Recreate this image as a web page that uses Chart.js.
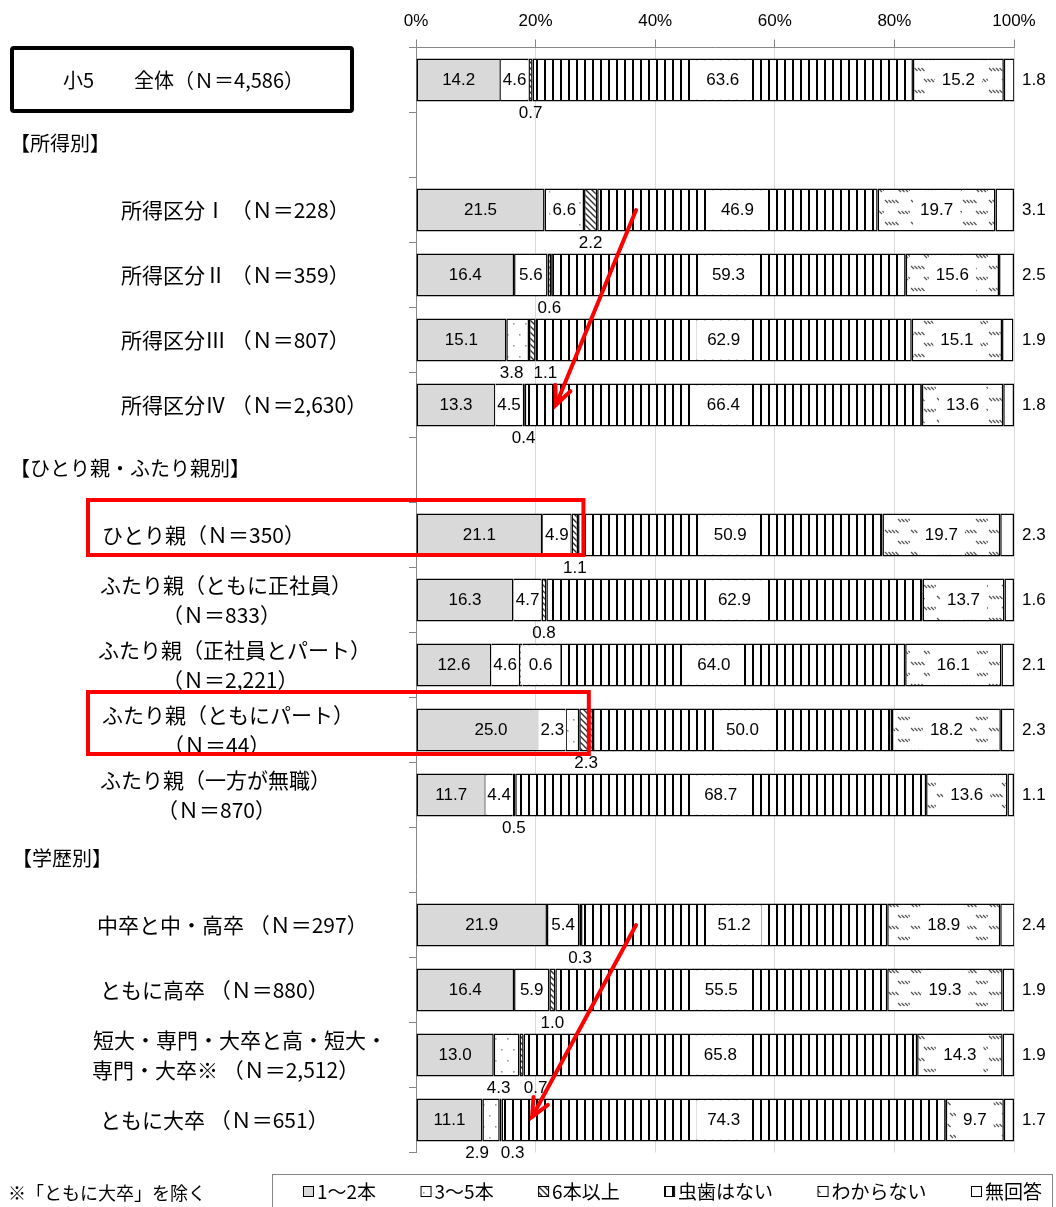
<!DOCTYPE html>
<html>
<head>
<meta charset="utf-8">
<script src="https://cdn.jsdelivr.net/npm/chart.js@4.4.1/dist/chart.umd.min.js"></script>
<style>
  html, body { margin: 0; padding: 0; background: #fff; }
  canvas { display: block; }
</style>
</head>
<body>
<canvas id="chart" width="1056" height="1207"></canvas>
<script>
// ---- data ----
const categories = [
  '小5　　全体（Ｎ＝4,586）',
  '【所得別】',
  '所得区分Ⅰ （Ｎ＝228）',
  '所得区分Ⅱ （Ｎ＝359）',
  '所得区分Ⅲ （Ｎ＝807）',
  '所得区分Ⅳ （Ｎ＝2,630）',
  '【ひとり親・ふたり親別】',
  'ひとり親（Ｎ＝350）',
  ['ふたり親（ともに正社員）', '（Ｎ＝833）'],
  ['ふたり親（正社員とパート）', '（Ｎ＝2,221）'],
  ['ふたり親（ともにパート）', '（Ｎ＝44）'],
  ['ふたり親（一方が無職）', '（Ｎ＝870）'],
  '【学歴別】',
  '中卒と中・高卒 （Ｎ＝297）',
  'ともに高卒 （Ｎ＝880）',
  ['短大・専門・大卒と高・短大・', '専門・大卒※ （Ｎ＝2,512）'],
  'ともに大卒 （Ｎ＝651）'
];
const seriesNames = ['1～2本', '3～5本', '6本以上', '虫歯はない', 'わからない', '無回答'];
const oneToTwo  = [14.2, null, 21.5, 16.4, 15.1, 13.3, null, 21.1, 16.3, 12.6, 25.0, 11.7, null, 21.9, 16.4, 13.0, 11.1];
const threeToFive = [4.6, null, 6.6, 5.6, 3.8, 4.5, null, 4.9, 4.7, 4.6, 2.3, 4.4, null, 5.4, 5.9, 4.3, 2.9];
const sixPlus   = [0.7, null, 2.2, 0.6, 1.1, 0.4, null, 1.1, 0.8, 0.6, 2.3, 0.5, null, 0.3, 1.0, 0.7, 0.3];
const noCaries  = [63.6, null, 46.9, 59.3, 62.9, 66.4, null, 50.9, 62.9, 64.0, 50.0, 68.7, null, 51.2, 55.5, 65.8, 74.3];
const unknown   = [15.2, null, 19.7, 15.6, 15.1, 13.6, null, 19.7, 13.7, 16.1, 18.2, 13.6, null, 18.9, 19.3, 14.3, 9.7];
const noAnswer  = [1.8, null, 3.1, 2.5, 1.9, 1.8, null, 2.3, 1.6, 2.1, 2.3, 1.1, null, 2.4, 1.9, 1.9, 1.7];
const tickLabels = ['0%', '20%', '40%', '60%', '80%', '100%'];
const footnote = '※「ともに大卒」を除く';

// ---- layout (not data) ----
const headerRows = [1, 6, 12];
const labelX = [63, 10, 121, 121, 121, 121, 10, 102, [100, 162], [98, 162], [102, 163], [100, 157], 12, 97, 100, [93, 92], 100];
// manual nudges of value labels, key "row,dataset"
const labelPlace = {
  '4,1':  { below: true, dx: -6 },
  '4,2':  { dx: 13 },
  '9,2':  { inside: true, dx: 20 },
  '10,1': { dx: -20 },
  '15,1': { below: true, dx: -8 },
  '15,2': { dx: 14 },
  '16,1': { below: true, dx: -14 },
  '16,2': { dx: 12 }
};
const jpFont = '"Noto Sans CJK JP", "Noto Sans", sans-serif';
const numFont = '"Liberation Sans", Arial, sans-serif';

const canvas = document.getElementById('chart');
const mainCtx = canvas.getContext('2d');

function makePattern(w, h, draw) {
  const c = document.createElement('canvas');
  c.width = w; c.height = h;
  const g = c.getContext('2d');
  g.fillStyle = '#fff';
  g.fillRect(0, 0, w, h);
  draw(g);
  return mainCtx.createPattern(c, 'repeat');
}

const dotPattern = makePattern(12, 22, g => {
  g.fillStyle = '#9a9a9a';
  g.fillRect(3, 4, 1.6, 1.6);
  g.fillRect(9, 15, 1.6, 1.6);
});
const hatchPattern = makePattern(6, 6, g => {
  g.strokeStyle = '#333';
  g.lineWidth = 1.4;
  for (let k = -1; k <= 1; k++) {
    g.beginPath();
    g.moveTo(-1, -1 + k * 6);
    g.lineTo(7, 7 + k * 6);
    g.stroke();
  }
});
const stripePattern = makePattern(8, 8, g => {
  g.fillStyle = '#000';
  g.fillRect(0, 0, 2, 8);
});
const dashPattern = makePattern(26, 22, g => {
  g.strokeStyle = '#555';
  g.lineWidth = 1.2;
  for (let k = 0; k < 4; k++) {
    g.beginPath(); g.moveTo(1 + 3.5 * k, 2); g.lineTo(4 + 3.5 * k, 5); g.stroke();
    g.beginPath(); g.moveTo(14 + 3.5 * k, 13); g.lineTo(17 + 3.5 * k, 16); g.stroke();
  }
});

const fills = ['#d9d9d9', dotPattern, hatchPattern, stripePattern, dashPattern, '#fff'];
const seriesData = [oneToTwo, threeToFive, sixPlus, noCaries, unknown, noAnswer];

const datasets = seriesNames.map((name, i) => ({
  label: name,
  data: seriesData[i],
  backgroundColor: fills[i],
  borderColor: '#000',
  borderWidth: 1.5,
  borderSkipped: false,
  barPercentage: 0.66,
  categoryPercentage: 1.0
}));

function boxText(ctx, text, x, y, pad, top, bottom) {
  const w = ctx.measureText(text).width;
  ctx.fillStyle = '#fff';
  ctx.fillRect(x - w / 2 - pad, top, w + pad * 2, bottom - top);
  ctx.fillStyle = '#000';
  ctx.fillText(text, x, y);
}

const valueLabels = {
  id: 'valueLabels',
  afterDatasetsDraw(chart) {
    const ctx = chart.ctx;
    ctx.save();
    ctx.font = '17px ' + numFont;
    ctx.textBaseline = 'middle';
    chart.data.datasets.forEach((ds, d) => {
      const meta = chart.getDatasetMeta(d);
      ds.data.forEach((v, r) => {
        if (v == null) return;
        const el = meta.data[r];
        const left = Math.min(el.base, el.x), right = Math.max(el.base, el.x);
        const top = el.y - el.height / 2 + 1.6, bottom = el.y + el.height / 2 - 1.6;
        const place = labelPlace[r + ',' + d] || {};
        const dx = place.dx || 0;
        const txt = v.toFixed(1);
        const cx = (left + right) / 2 + dx;
        ctx.textAlign = 'center';
        ctx.fillStyle = '#000';
        if (d === 0) {
          ctx.fillText(txt, cx, el.y);
        } else if (d === 1) {
          if (place.below) ctx.fillText(txt, cx, el.y + 33);
          else boxText(ctx, txt, cx, el.y, 2, top, bottom);
        } else if (d === 2) {
          if (place.inside) boxText(ctx, txt, cx, el.y, 8, top, bottom);
          else ctx.fillText(txt, cx, el.y + 33);
        } else if (d === 3) {
          boxText(ctx, txt, cx, el.y, 11, top, bottom);
        } else if (d === 4) {
          boxText(ctx, txt, cx, el.y, 7, top, bottom);
        } else {
          ctx.textAlign = 'left';
          ctx.fillText(txt, chart.chartArea.right + 8, el.y);
        }
      });
    });
    ctx.restore();
  }
};

const decorations = {
  id: 'decorations',
  afterDraw(chart) {
    const ctx = chart.ctx;
    const xs = chart.scales.x, ys = chart.scales.y;
    ctx.save();
    ctx.textBaseline = 'middle';
    ctx.textAlign = 'left';
    ctx.fillStyle = '#000';

    // category labels
    categories.forEach((lab, i) => {
      const y = ys.getPixelForValue(i);
      ctx.font = (headerRows.includes(i) || i === 0 ? '20px ' : '21px ') + jpFont;
      if (Array.isArray(lab)) {
        ctx.fillText(lab[0], labelX[i][0], y - 15);
        ctx.fillText(lab[1], labelX[i][1], y + 15);
      } else {
        ctx.fillText(lab, labelX[i], y + (headerRows.includes(i) ? -2 : 0));
      }
    });

    // box around the total row label
    ctx.strokeStyle = '#000';
    ctx.lineWidth = 4;
    ctx.beginPath();
    ctx.roundRect(12, 48, 340, 63, 2);
    ctx.stroke();

    // footnote
    ctx.font = '18px ' + jpFont;
    ctx.fillText(footnote, 8, 1193);

    // legend
    ctx.strokeStyle = '#868686';
    ctx.lineWidth = 1;
    ctx.strokeRect(272.5, 1174.5, 780, 45);
    ctx.font = '19px ' + jpFont;
    const sq = 11, gapIn = 3;
    const widths = seriesNames.map(n => sq + gapIn + ctx.measureText(n).width);
    const total = widths.reduce((a, b) => a + b, 0);
    const gap = (1042 - 303 - total) / (seriesNames.length - 1);
    let lx = 303;
    seriesNames.forEach((n, i) => {
      ctx.fillStyle = fills[i];
      ctx.fillRect(lx, 1186, sq, sq);
      ctx.strokeStyle = '#000';
      ctx.strokeRect(lx + 0.5, 1186.5, sq - 1, sq - 1);
      ctx.fillStyle = '#000';
      ctx.fillText(n, lx + sq + gapIn, 1192);
      lx += widths[i] + gap;
    });

    // red annotations
    ctx.strokeStyle = '#ff0000';
    ctx.fillStyle = '#ff0000';
    ctx.lineWidth = 4;
    const y7 = ys.getPixelForValue(7), y10 = ys.getPixelForValue(10);
    ctx.strokeRect(88, y7 - 35, xs.getPixelForValue(28.0) - 88, 55);
    ctx.strokeRect(88, y10 - 38, xs.getPixelForValue(28.9) - 88, 62);

    function arrow(x1, y1, x2, y2) {
      const ang = Math.atan2(y2 - y1, x2 - x1);
      const hl = 20, ha = 0.42;
      ctx.beginPath();
      ctx.moveTo(x1, y1);
      ctx.lineTo(x2, y2);
      ctx.stroke();
      ctx.beginPath();
      ctx.moveTo(x2 - hl * Math.cos(ang - ha), y2 - hl * Math.sin(ang - ha));
      ctx.lineTo(x2, y2);
      ctx.lineTo(x2 - hl * Math.cos(ang + ha), y2 - hl * Math.sin(ang + ha));
      ctx.stroke();
    }
    ctx.lineCap = 'round';
    arrow(xs.getPixelForValue(36.8), ys.getPixelForValue(2),
          xs.getPixelForValue(23.4), ys.getPixelForValue(5));
    arrow(xs.getPixelForValue(36.8), ys.getPixelForValue(13),
          xs.getPixelForValue(19.4), ys.getPixelForValue(16) - 3);
    ctx.restore();
  }
};

new Chart(canvas, {
  type: 'bar',
  data: { labels: categories, datasets: datasets },
  options: {
    responsive: false,
    animation: false,
    indexAxis: 'y',
    layout: { padding: { left: 0, right: 42, top: 0, bottom: 54.5 } },
    plugins: { legend: { display: false }, tooltip: { enabled: false } },
    scales: {
      x: {
        position: 'top',
        stacked: true,
        min: 0,
        max: 100,
        ticks: {
          stepSize: 20,
          callback: (v, i) => tickLabels[i],
          font: { family: numFont, size: 17 },
          color: '#000',
          padding: 8
        },
        grid: { color: '#d9d9d9', tickColor: '#868686', tickLength: 8 },
        border: { color: '#868686' },
        afterFit: s => { s.height = 47.5; }
      },
      y: {
        stacked: true,
        offset: true,
        ticks: { callback: () => '', padding: 0 },
        grid: { offset: true, drawOnChartArea: false, tickLength: 7, color: '#868686' },
        border: { color: '#868686' },
        afterFit: s => { s.width = 416; }
      }
    }
  },
  plugins: [valueLabels, decorations]
});
</script>
</body>
</html>
